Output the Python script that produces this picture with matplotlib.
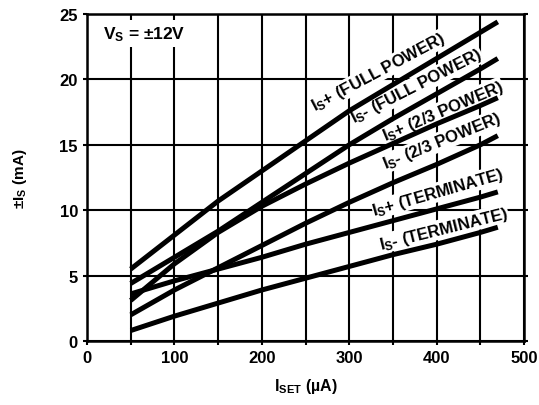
import matplotlib
matplotlib.use('Agg')
import matplotlib.pyplot as plt
from matplotlib.ticker import MultipleLocator

plt.rcParams['font.family'] = ['Liberation Sans', 'DejaVu Sans']
plt.rcParams['font.weight'] = 'bold'
plt.rcParams['mathtext.fontset'] = 'custom'
plt.rcParams['mathtext.rm'] = 'Liberation Sans:bold'
plt.rcParams['mathtext.it'] = 'Liberation Sans:bold'
plt.rcParams['mathtext.bf'] = 'Liberation Sans:bold'

# I_SET in uA
iset = [50, 100, 150, 200, 250, 300, 350, 400, 450, 470]

# supply currents in mA
is_plus_full = [5.5, 8.1, 10.7, 13.0, 15.3, 17.6, 19.6, 21.6, 23.6, 24.4]
is_minus_full = [4.4, 6.4, 8.4, 10.6, 12.8, 15.0, 17.0, 18.9, 20.8, 21.6]
is_plus_23 = [3.1, 5.9, 8.3, 10.3, 12.0, 13.6, 15.1, 16.6, 18.0, 18.6]
is_minus_23 = [2.0, 3.9, 5.6, 7.3, 9.0, 10.6, 12.1, 13.5, 15.0, 15.7]
is_plus_term = [3.6, 4.6, 5.5, 6.4, 7.4, 8.3, 9.2, 10.1, 11.0, 11.4]
is_minus_term = [0.8, 1.9, 2.9, 3.9, 4.8, 5.7, 6.6, 7.4, 8.3, 8.7]

series = [is_plus_full, is_minus_full, is_plus_23,
          is_minus_23, is_plus_term, is_minus_term]

labels = [r'I$_\mathrm{S}$+ (FULL POWER)', r'I$_\mathrm{S}$- (FULL POWER)',
          r'I$_\mathrm{S}$+ (2/3 POWER)', r'I$_\mathrm{S}$- (2/3 POWER)',
          r'I$_\mathrm{S}$+ (TERMINATE)', r'I$_\mathrm{S}$- (TERMINATE)']
# label centre (x, y) and angle
label_pos = [(334, 20.6, 28), (377, 19.5, 27), (407, 17.6, 23),
             (406, 15.3, 22), (402, 11.4, 16), (408, 8.6, 14)]

fig = plt.figure(figsize=(5.39, 4.06), dpi=100)
ax = fig.add_axes([0.1614, 0.1576, 0.8108, 0.8054])

for ys in series:
  ax.plot(iset, ys, color='black', lw=3.6, solid_capstyle='butt', zorder=5)

for txt, (x, y, rot) in zip(labels, label_pos):
  ax.text(x, y, txt, rotation=rot, rotation_mode='anchor', ha='center', va='center',
          fontsize=12, fontweight='bold', zorder=4,
          bbox=dict(facecolor='white', edgecolor='none', pad=0.3))

ax.text(18, 23.5, r'V$_\mathrm{S}$ = ±12V', fontsize=12.5, fontweight='bold',
        ha='left', va='center', zorder=4,
        bbox=dict(facecolor='white', edgecolor='none', pad=3))

ax.set_xlim(0, 500)
ax.set_ylim(0, 25)
ax.xaxis.set_major_locator(MultipleLocator(100))
ax.xaxis.set_minor_locator(MultipleLocator(50))
ax.yaxis.set_major_locator(MultipleLocator(5))
ax.grid(True, which='both', axis='x', color='black', lw=1.5)
ax.grid(True, which='major', axis='y', color='black', lw=1.5)
ax.set_axisbelow(True)
for s in ax.spines.values():
  s.set_linewidth(1.8)
ax.tick_params(which='both', direction='out', length=3, width=1.5,
               labelsize=12, right=True)
for lab in ax.get_xticklabels() + ax.get_yticklabels():
  lab.set_fontweight('bold')

ax.set_xlabel(r'I$_\mathrm{SET}$ (µA)', fontsize=11.5, fontweight='bold', labelpad=8)
ax.set_ylabel(r'±I$_\mathrm{S}$ (mA)', fontsize=11, fontweight='bold', labelpad=22)

fig.savefig('out.png', dpi=100)
